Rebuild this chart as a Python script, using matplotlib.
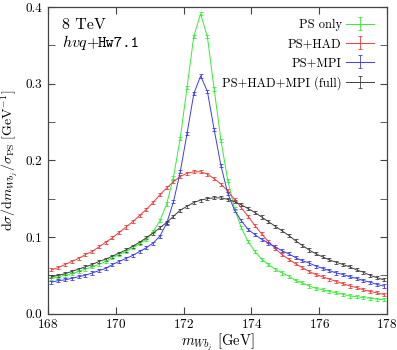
import matplotlib
matplotlib.use("Agg")
import matplotlib.pyplot as plt
from matplotlib.ticker import MultipleLocator, FormatStrFormatter

plt.rcParams["font.family"] = "cmr10"
plt.rcParams["mathtext.fontset"] = "cm"
plt.rcParams["axes.unicode_minus"] = False
plt.rcParams["axes.formatter.use_mathtext"] = True

# bin centres (0.2 GeV bins)
m_wbj = [168.1, 168.3, 168.5, 168.7, 168.9, 169.1, 169.3, 169.5, 169.7, 169.9,
         170.1, 170.3, 170.5, 170.7, 170.9, 171.1, 171.3, 171.5, 171.7, 171.9,
         172.1, 172.3, 172.5, 172.7, 172.9, 173.1, 173.3, 173.5, 173.7, 173.9,
         174.1, 174.3, 174.5, 174.7, 174.9, 175.1, 175.3, 175.5, 175.7, 175.9,
         176.1, 176.3, 176.5, 176.7, 176.9, 177.1, 177.3, 177.5, 177.7, 177.9]

ps_only = [0.046, 0.048, 0.050, 0.052, 0.055, 0.058, 0.061, 0.064, 0.068, 0.073,
           0.077, 0.081, 0.086, 0.091, 0.097, 0.107, 0.121, 0.143, 0.178, 0.229,
           0.295, 0.362, 0.391, 0.361, 0.293, 0.226, 0.174, 0.137, 0.112, 0.094,
           0.081, 0.071, 0.064, 0.058, 0.053, 0.049, 0.043, 0.040, 0.036, 0.033,
           0.031, 0.029, 0.027, 0.025, 0.023, 0.022, 0.021, 0.020, 0.019, 0.018]

ps_had = [0.057, 0.060, 0.064, 0.068, 0.072, 0.077, 0.081, 0.087, 0.093, 0.099,
          0.106, 0.113, 0.120, 0.128, 0.136, 0.145, 0.155, 0.164, 0.172, 0.179,
          0.183, 0.185, 0.185, 0.182, 0.176, 0.169, 0.160, 0.149, 0.138, 0.127,
          0.115, 0.104, 0.094, 0.085, 0.077, 0.071, 0.065, 0.060, 0.055, 0.051,
          0.048, 0.045, 0.042, 0.039, 0.036, 0.034, 0.031, 0.029, 0.027, 0.025]

ps_mpi = [0.041, 0.043, 0.044, 0.046, 0.048, 0.050, 0.053, 0.056, 0.059, 0.064,
          0.068, 0.072, 0.076, 0.081, 0.086, 0.092, 0.101, 0.118, 0.146, 0.185,
          0.235, 0.287, 0.310, 0.290, 0.240, 0.193, 0.157, 0.135, 0.121, 0.110,
          0.103, 0.097, 0.092, 0.087, 0.082, 0.078, 0.073, 0.069, 0.066, 0.062,
          0.059, 0.056, 0.053, 0.051, 0.048, 0.046, 0.043, 0.041, 0.038, 0.036]

full = [0.048, 0.050, 0.052, 0.055, 0.058, 0.061, 0.064, 0.068, 0.071, 0.075,
        0.079, 0.083, 0.088, 0.093, 0.099, 0.105, 0.112, 0.119, 0.127, 0.135,
        0.140, 0.145, 0.148, 0.150, 0.151, 0.151, 0.149, 0.146, 0.142, 0.137,
        0.132, 0.126, 0.120, 0.114, 0.108, 0.102, 0.095, 0.089, 0.083, 0.078,
        0.074, 0.070, 0.067, 0.064, 0.061, 0.057, 0.054, 0.050, 0.047, 0.044]

stat_err = 0.002

series = [
    ("PS only", ps_only, "#33ee33"),
    ("PS+HAD", ps_had, "#f03c3c"),
    ("PS+MPI", ps_mpi, "#3c3cf0"),
    ("PS+HAD+MPI (full)", full, "#404040"),
]

fig = plt.figure(figsize=(3.97, 3.5), dpi=100)
ax = fig.add_axes([0.121, 0.104, 0.854, 0.876])

for label, vals, col in series:
    ax.errorbar(m_wbj, vals, yerr=stat_err, color=col, lw=0.7,
                elinewidth=0.6, capsize=1.5, capthick=0.6, label=label)

ax.set_xlim(168, 178)
ax.set_ylim(0.0, 0.4)
ax.xaxis.set_major_locator(MultipleLocator(2))
ax.yaxis.set_major_locator(MultipleLocator(0.1))
ax.yaxis.set_minor_locator(MultipleLocator(0.05))
ax.yaxis.set_major_formatter(FormatStrFormatter("%.1f"))
ax.tick_params(which="both", direction="in", top=True, right=True,
               labelsize=9.5, color="#444444")
ax.tick_params(which="major", length=5)
ax.tick_params(axis="x", which="major", pad=3)
ax.tick_params(axis="y", which="major", pad=4)
ax.tick_params(which="minor", length=5)
for sp in ax.spines.values():
    sp.set_color("#444444")
    sp.set_linewidth(0.9)

ax.set_xlabel(r"$m_{Wb_j}$ [GeV]", fontsize=10.5, labelpad=0)
ax.set_ylabel(r"$\mathrm{d}\sigma/\mathrm{d}m_{Wb_j}/\sigma_{\mathrm{PS}}\ [\mathrm{GeV}^{-1}]$",
              fontsize=10, labelpad=4)

ax.text(0.04, 0.929, "8 TeV", transform=ax.transAxes, fontsize=11.5, va="baseline")
ax.text(0.04, 0.871, r"$hvq$+", transform=ax.transAxes, fontsize=11.5, va="baseline")
ax.text(0.146, 0.871, "Hw7.1", transform=ax.transAxes, fontsize=11.5, va="baseline",
        family="cmtt10")

leg = ax.legend(loc="upper right", frameon=False, markerfirst=False,
                fontsize=9, handlelength=2.2, handletextpad=0.35,
                labelspacing=0.55, borderaxespad=0.55,
                bbox_to_anchor=(0.995, 1.0))

fig.savefig("out.png", dpi=100)
